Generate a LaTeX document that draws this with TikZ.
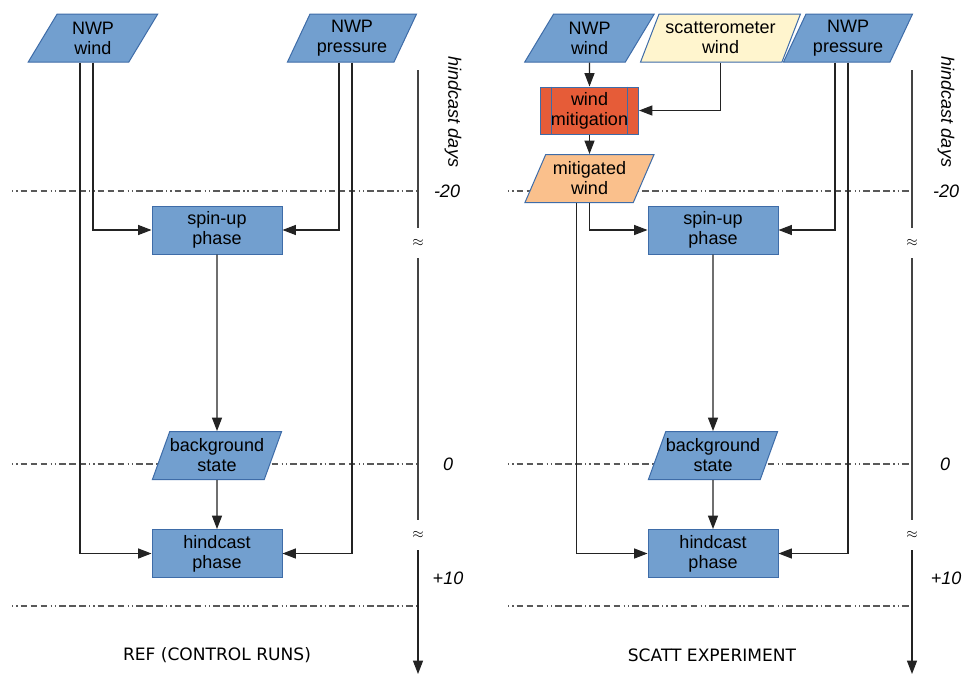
\documentclass[tikz,border=0pt]{standalone}
\usepackage{fontspec}
\setmainfont{Liberation Sans}
\newfontfamily\titlefont{DejaVu Sans}
\usetikzlibrary{positioning,arrows.meta,shapes.geometric}
\definecolor{nodeblue}{RGB}{114,159,207}
\definecolor{nodeedge}{RGB}{62,108,168}
\definecolor{mitired}{RGB}{230,92,56}
\definecolor{mitilight}{RGB}{250,192,140}
\definecolor{scattyellow}{RGB}{255,245,206}
\definecolor{linegray}{RGB}{35,35,35}
\tikzset{
  proc/.style={rectangle, draw=nodeedge, line width=0.75pt, fill=nodeblue, align=center, minimum width=97.5pt, minimum height=36pt, inner sep=0pt, font=\fontsize{13.5}{15}\selectfont},
  dataio/.style={trapezium, trapezium left angle=62.5, trapezium right angle=117.5, trapezium stretches=true, draw=nodeedge, line width=0.75pt, fill=nodeblue, align=center, minimum width=97.5pt, minimum height=36pt, inner sep=0pt, font=\fontsize{13.5}{15}\selectfont},
  arr/.style={-{Triangle[length=10pt,width=7.5pt]}, line width=0.8pt, draw=linegray},
  axisline/.style={line width=0.8pt, draw=linegray!85},
  guide/.style={line width=0.8pt, draw=black!65, dash pattern=on 1pt off 2.2pt on 1pt off 2.2pt on 5pt off 2.5pt on 5pt off 2.5pt on 5pt off 2.5pt},
  daylab/.style={font=\itshape\fontsize{13.5}{15}\selectfont},
  gap/.style={inner sep=0pt, minimum height=22.5pt, font=\fontsize{11}{11}\selectfont},
  title/.style={font=\titlefont\fontsize{12.8}{14}\selectfont},
}
\begin{document}
\begin{tikzpicture}[x=0.75pt, y=-0.75pt]
  \useasboundingbox[fill=white] (0,0) rectangle (962,675);
  % time levels
  \draw[guide] (12,191) -- (418,191);
  \draw[guide] (12,464) -- (418,464);
  \draw[guide] (12,606) -- (418,606);
  \draw[guide] (508,191) -- (912,191);
  \draw[guide] (508,464) -- (912,464);
  \draw[guide] (508,606) -- (912,606);

  % REF (control runs)
  \node[dataio] (windL) at (93,38) {NWP\\wind};
  \node[dataio] (presL) at (352,38) {NWP\\pressure};
  \node[proc] (spinL) at (217,230) {spin-up\\phase};
  \node[dataio] (bgL) at (217,455.5) {background\\state};
  \node[proc] (hindL) at (217,553.5) {hindcast\\phase};
  \draw[arr] (windL.center |- windL.bottom side) |- (spinL.west);
  \draw[arr] ([xshift=-9.75pt]windL.center |- windL.bottom side) |- (hindL.west);
  \draw[arr] ([xshift=-9.75pt]presL.center |- presL.bottom side) |- (spinL.east);
  \draw[arr] (presL.center |- presL.bottom side) |- (hindL.east);
  \draw[arr] (spinL) -- (bgL);
  \draw[arr] (bgL) -- (hindL);

  % SCATT experiment
  \node[dataio] (windR) at (589.5,38) {NWP\\wind};
  \node[dataio, fill=scattyellow, minimum width=120pt] (scat) at (720.5,38) {scatterometer\\wind};
  \node[dataio] (presR) at (848,38) {NWP\\pressure};
  \node[proc, fill=mitired, minimum width=73.5pt, minimum height=35.25pt] (mit) at (589.5,110.5) {wind\\mitigation};
  \draw[line width=0.75pt, draw=nodeedge] ([xshift=8.5pt]mit.north west) -- ([xshift=8.5pt]mit.south west);
  \draw[line width=0.75pt, draw=nodeedge] ([xshift=-8.5pt]mit.north east) -- ([xshift=-8.5pt]mit.south east);
  \node[dataio, fill=mitilight] (mitR) at (589.5,178.5) {mitigated\\wind};
  \node[proc] (spinR) at (713,230) {spin-up\\phase};
  \node[dataio] (bgR) at (713,455.5) {background\\state};
  \node[proc] (hindR) at (713,553.5) {hindcast\\phase};
  \draw[arr] (windR) -- (mit);
  \draw[arr] (scat) |- (mit);
  \draw[arr] (mit) -- (mitR);
  \draw[arr] (mitR.center |- mitR.bottom side) |- (spinR.west);
  \draw[arr] ([xshift=-9.75pt]mitR.center |- mitR.bottom side) |- (hindR.west);
  \draw[arr] ([xshift=-9.75pt]presR.center |- presR.bottom side) |- (spinR.east);
  \draw[arr] (presR.center |- presR.bottom side) |- (hindR.east);
  \draw[arr] (spinR) -- (bgR);
  \draw[arr] (bgR) -- (hindR);

  % time axes
  \coordinate (topL) at (418,70);
  \coordinate (endL) at (418,674);
  \node[gap] (cutL1) at (418,243) {$\approx$};
  \node[gap] (cutL2) at (418,535) {$\approx$};
  \draw[axisline] (topL) -- (cutL1);
  \draw[axisline] (cutL1) -- (cutL2);
  \draw[axisline, arr] (cutL2) -- (endL);
  \coordinate (topR) at (912,70);
  \coordinate (endR) at (912,674);
  \node[gap] (cutR1) at (912,243) {$\approx$};
  \node[gap] (cutR2) at (912,535) {$\approx$};
  \draw[axisline] (topR) -- (cutR1);
  \draw[axisline] (cutR1) -- (cutR2);
  \draw[axisline, arr] (cutR2) -- (endR);

  \node[daylab, rotate=-90] (daysL) at (453,112) {hindcast days};
  \node[daylab] (m20L) at (447,191) {-20};
  \node[daylab] (zeroL) at (448,464) {0};
  \node[daylab] (p10L) at (448,578) {+10};
  \node[daylab, rotate=-90] (daysR) at (946,112) {hindcast days};
  \node[daylab] (m20R) at (946,191) {-20};
  \node[daylab] (zeroR) at (945,464) {0};
  \node[daylab] (p10R) at (946,578) {+10};

  \node[title] (refT) at (217,655) {REF (CONTROL RUNS)};
  \node[title] (scattT) at (712,655) {SCATT EXPERIMENT};
\end{tikzpicture}
\end{document}
